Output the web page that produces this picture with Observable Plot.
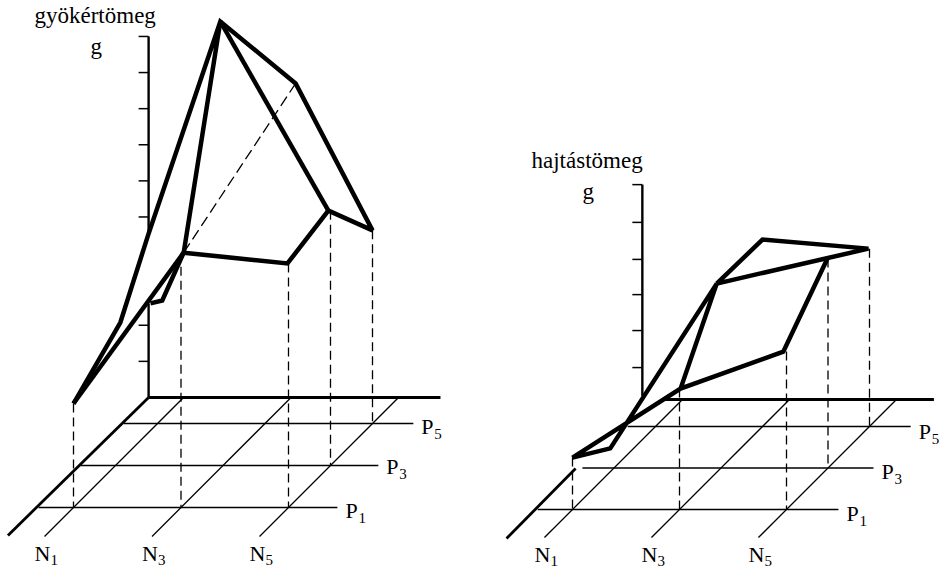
<!DOCTYPE html>
<html><head><meta charset="utf-8">
<style>html,body{margin:0;padding:0;background:#fff}svg{display:block}</style>
<script src="https://cdn.jsdelivr.net/npm/d3@7"></script>
<script src="https://cdn.jsdelivr.net/npm/@observablehq/plot@0.6"></script>
</head><body><div id="c"></div>
<script>
// every vertex is [N level, P level, grams in axis ticks]
const rootFrame = [[1,1,2.88],[1.09,3,3.96],[0.83,5,5.24],[2.95,3,12.3],[3.57,5,9.42],[5,5,5.35],[4.96,3,7.06],[4.98,1,6.76],[3.05,1,7.06],[2.95,3,12.3]];
const rootRidge = [[2.95,3,12.3],[4.96,3,7.06]];
const rootFront = [[1,1,2.88],[3.05,1,7.06]];
const rootInner = [[1.65,3,4.49],[1.87,3,4.57],[3.05,1,7.06]];
const rootHidden = [[3.05,1,7.06],[3.57,5,9.42]];
const rootDrops = [[1,1,2.88],[3,1,7.06],[5,1,6.76],[5,3,7.06],[5,5,5.35]];
const rootTicks = [1,2,5,6,7,8,9,10];

const shootBack = [[2.92,3,5.08],[3,5,5.15],[4.98,5,4.9],[3.74,3,5.36],[2.92,3,5.08]];
const shootFront = [[4.99,3,5.77],[4.94,1,4.35],[3.02,1,3.33],[1,1,1.43],[0.93,3,0.54],[2.92,3,5.08],[3.02,1,3.33]];
const shootDrops = [[1,1,1.43],[3,1,3.33],[5,1,4.35],[5,3,5.77],[5,5,4.9]];
const shootTicks = [0.88,1.9,2.89,3.86,4.88,5.92];

const nLevels = [1,3,5];
const pLevels = [1,3,5];
const rootTitle = "gyökértömeg", shootTitle = "hajtástömeg", unit = "g";

// oblique projections of the two floors
const rootProj = ([n,p,g=0]) => ({x:73+53.75*(n-1)+21*(p-1), y:507-21*(p-1)-36.1*g});
const shootProj = ([n,p,g=0]) => ({x:572+53.5*(n-1)+20.75*(p-1), y:509-20.75*(p-1)-36.3*g});
const path = (proj, verts, id) => verts.map(v => ({...proj(v), id}));
const paths = (proj, list, prefix) => list.flatMap((v,i) => path(proj, v, prefix+i));
const thick = {x:"x", y:"y", z:"id", stroke:"#000", strokeLinejoin:"miter", strokeMiterlimit:3, strokeLinecap:"butt"};

function panel(cfg){
  const {proj, surfaces, hidden, drops, ticks, o, axisN, axisP, axisG, nEnd, pStart, pEnd, nBack, labelDY, nDY} = cfg;
  const tick = ticks.map(g => { const b = proj([o[0],o[1],g]); return {x1:b.x-10,x2:b.x,y1:b.y,y2:b.y}; });
  const floorN = nLevels.map(n => [[n,nEnd],[n,nBack]]);
  const floorP = pLevels.map((p,i) => [[pStart[i],p],[pEnd[i],p]]);
  const nTxt = nLevels.map(n => { const b = proj([n,nEnd]); return {x:b.x-10, y:b.y+nDY, t:"N", s:String(n)}; });
  const pTxt = pLevels.map((p,i) => { const b = proj([pEnd[i],p]); return {x:b.x+8, y:b.y+labelDY[i], t:"P", s:String(p)}; });
  const sub = {fontSize:15, textAnchor:"start", lineAnchor:"bottom"};
  const big = {fontSize:22, textAnchor:"start", lineAnchor:"bottom"};
  return [
    Plot.line(paths(proj, floorN, "n"), {...thick, strokeWidth:1.3}),
    Plot.line(paths(proj, floorP, "p"), {...thick, strokeWidth:1.6}),
    Plot.line(paths(proj, axisN, "an"), {...thick, strokeWidth:3}),
    Plot.line(paths(proj, axisP, "ap"), {...thick, strokeWidth:2.8}),
    Plot.line(paths(proj, axisG, "ag"), {...thick, strokeWidth:2.4}),
    Plot.link(tick, {x1:"x1",x2:"x2",y1:"y1",y2:"y2",stroke:"#000",strokeWidth:1.5}),
    Plot.line(paths(proj, drops.map(d => [d,[d[0],d[1],0]]), "d"), {...thick, strokeWidth:1.3, strokeDasharray:"9 5"}),
    Plot.line(paths(proj, hidden, "h"), {...thick, strokeWidth:1.3, strokeDasharray:"11 5"}),
    Plot.line(paths(proj, surfaces, "s"), {...thick, strokeWidth:4.5}),
    Plot.text(nTxt, {x:"x",y:"y",text:"t",...big}),
    Plot.text(nTxt, {x:"x",y:"y",text:"s",dx:16,dy:4,...sub}),
    Plot.text(pTxt, {x:"x",y:"y",text:"t",...big}),
    Plot.text(pTxt, {x:"x",y:"y",text:"s",dx:13,dy:5,...sub})
  ];
}

const rootMarks = panel({
  proj: rootProj, surfaces:[rootFrame,rootRidge,rootFront,rootInner], hidden:[rootHidden], drops:rootDrops, ticks:rootTicks,
  o:[0.35,6.24],
  axisN:[[[0.35,6.24],[5.78,6.24]]], axisP:[[[0.35,6.24],[0.3,-0.33]]],
  axisG:[[[0.35,6.24,0],[0.35,6.24,2.6]],[[0.35,6.24,4.5],[0.35,6.24,10]]],
  nEnd:-0.38, nBack:6.24, pStart:[0.35,0.35,0.37], pEnd:[5.91,5.89,5.76], labelDY:[10,8,10], nDY:25
});
const shootMarks = panel({
  proj: shootProj, surfaces:[shootBack,shootFront], hidden:[], drops:shootDrops, ticks:shootTicks,
  o:[0.25,6.3],
  axisN:[[[0.65,6.3],[5.7,6.3]]], axisP:[[[0.29,2.98],[0.31,-0.4]]],
  axisG:[[[0.25,6.3,0.1],[0.25,6.3,5.92]]],
  nEnd:-0.35, nBack:6.3, pStart:[0.35,0.41,0.48], pEnd:[5.97,5.85,5.77], labelDY:[11,11,12], nDY:24
});

const titles = [
  {x:34,y:22,t:rootTitle},{x:90,y:53,t:unit},
  {x:531,y:167,t:shootTitle},{x:582,y:198,t:unit}
];

const chart = Plot.plot({
  width:943, height:569, margin:0,
  style:{fontFamily:"'Liberation Serif'", background:"#fff", color:"#000"},
  x:{axis:null, domain:[0,943], range:[0,943]},
  y:{axis:null, domain:[0,569], range:[0,569]},
  marks:[
    ...rootMarks, ...shootMarks,
    Plot.text(titles, {x:"x",y:"y",text:"t",fontSize:23,textAnchor:"start",lineAnchor:"bottom"})
  ]
});
document.getElementById("c").append(chart);
</script></body></html>
